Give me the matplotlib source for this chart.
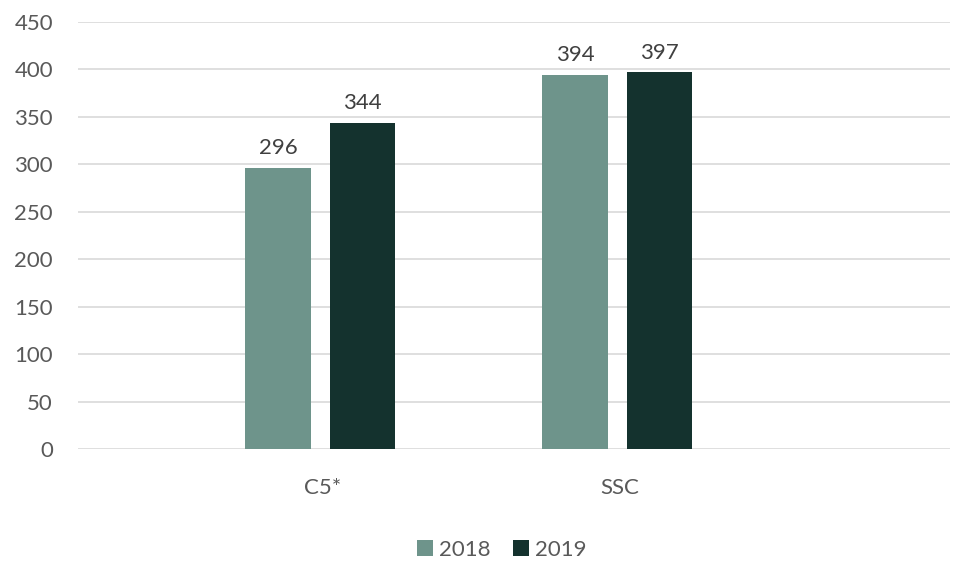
import matplotlib.pyplot as plt
import numpy as np

categories = ["C5*", "SSC"]
years = ["2018", "2019"]
values_2018 = [296, 394]
values_2019 = [344, 397]
colors = ["#6e948b", "#14322e"]

plt.rcParams['font.family'] = ['Lato', 'DejaVu Sans']

fig = plt.figure(figsize=(9.56, 5.61), dpi=100)
ax = fig.add_axes([0.0816, 0.1996, 0.9121, 0.7612])

x = np.arange(len(categories))
w = 0.22
off = 0.142
bars1 = ax.bar(x - off, values_2018, w, color=colors[0], label=years[0], zorder=3)
bars2 = ax.bar(x + off, values_2019, w, color=colors[1], label=years[1], zorder=3)

for bars in (bars1, bars2):
    for b in bars:
        ax.annotate(str(int(b.get_height())), (b.get_x() + b.get_width() / 2, b.get_height()),
                    xytext=(0, 7), textcoords="offset points", ha="center", va="bottom",
                    fontsize=16, color="#404040")

ax.set_ylim(0, 450)
ax.set_yticks(range(0, 451, 50))
ax.set_xlim(-0.815, 2.121)
ax.set_xticks(x + 0.01)
ax.set_xticklabels(categories)
ax.grid(axis="y", color="#d9d9d9", linewidth=1.2, zorder=0)
for s in ax.spines.values():
    s.set_visible(False)
ax.tick_params(axis="both", length=0, labelsize=16, labelcolor="#595959")
ax.tick_params(axis="y", pad=18)
ax.tick_params(axis="x", pad=21)

fig.legend(loc="center", bbox_to_anchor=(0.525, 0.02), ncol=2, frameon=False,
           fontsize=16, handlelength=0.7, handleheight=0.7, handletextpad=0.3,
           columnspacing=1.0, labelcolor="#595959")

fig.savefig("out.png", dpi=100)
